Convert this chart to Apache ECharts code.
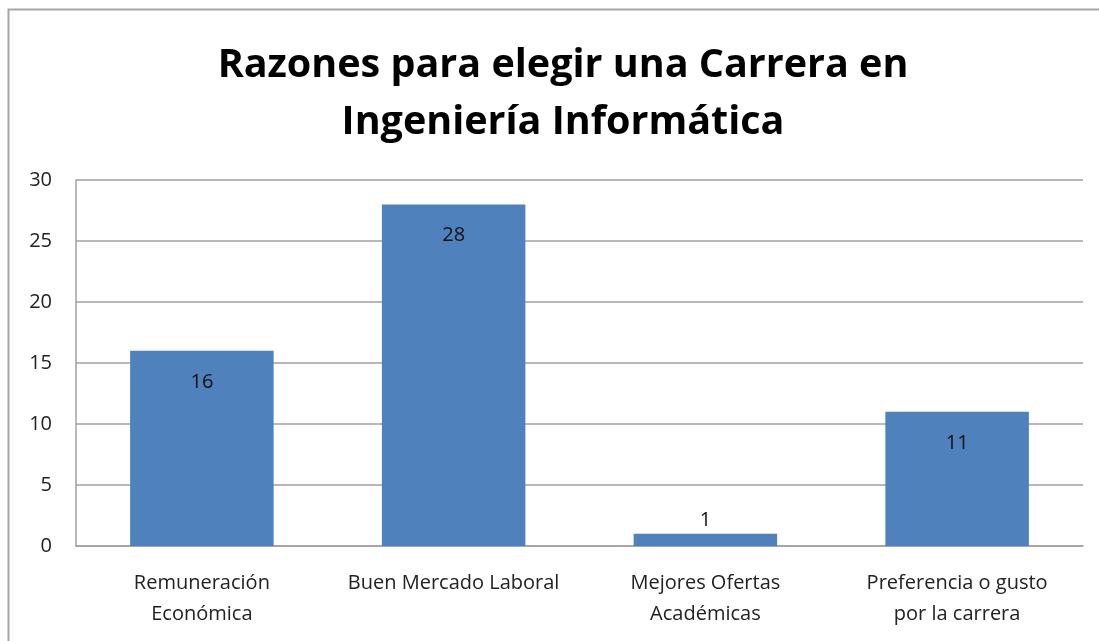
<!DOCTYPE html>
<html>
<head>
<meta charset="utf-8">
<script src="https://cdn.jsdelivr.net/npm/echarts@6/dist/echarts.min.js"></script>
<style>
html,body{margin:0;padding:0;background:#fff;}
#chart{width:1099px;height:641px;}
</style>
</head>
<body>
<div id="chart"></div>
<script>
var categories = ['Remuneración\nEconómica', 'Buen Mercado Laboral', 'Mejores Ofertas\nAcadémicas', 'Preferencia o gusto\npor la carrera'];
var values = [16, 28, 1, 11];
var labelPositions = ['insideTop', 'insideTop', 'top', 'insideTop'];

var font = '"Open Sans", "Noto Sans", sans-serif';

var barData = values.map(function (v, i) {
	return {
		value: v,
		label: { position: labelPositions[i], distance: labelPositions[i] == 'top' ? 4 : 21 }
	};
});

var option = {
	animation: false,
	title: {
		text: 'Razones para elegir una Carrera en\nIngeniería Informática',
		left: 558,
		top: 32,
		textAlign: 'center',
		textStyle: {
			fontFamily: font,
			fontWeight: 'bold',
			fontSize: 39.5,
			lineHeight: 57,
			color: '#000'
		}
	},
	graphic: [{
		type: 'rect',
		shape: { x: 8.5, y: 9.5, width: 1300, height: 1000 },
		style: { fill: 'none', stroke: '#a6a6a6', lineWidth: 2 },
		silent: true
	}],
	grid: { left: 76, right: 16, top: 180, bottom: 95 },
	xAxis: {
		type: 'category',
		data: categories,
		axisTick: { show: false },
		axisLine: { lineStyle: { color: '#a0a0a0', width: 1.5 } },
		axisLabel: {
			interval: 0,
			margin: 22,
			fontFamily: font,
			fontSize: 20,
			lineHeight: 31,
			color: '#222'
		}
	},
	yAxis: {
		type: 'value',
		min: 0,
		max: 30,
		interval: 5,
		axisLine: { show: true, lineStyle: { color: '#a0a0a0', width: 1.5 } },
		axisTick: { show: false },
		splitLine: { lineStyle: { color: '#a0a0a0', width: 1.5 } },
		axisLabel: {
			margin: 24,
			fontFamily: font,
			fontSize: 20,
			color: '#222'
		}
	},
	series: [{
		type: 'bar',
		data: barData,
		barWidth: '57%',
		itemStyle: { color: '#4f81bd' },
		label: {
			show: true,
			fontFamily: font,
			fontSize: 20,
			color: '#111'
		}
	}]
};

var chart = echarts.init(document.getElementById('chart'));
chart.setOption(option);
</script>
</body>
</html>
